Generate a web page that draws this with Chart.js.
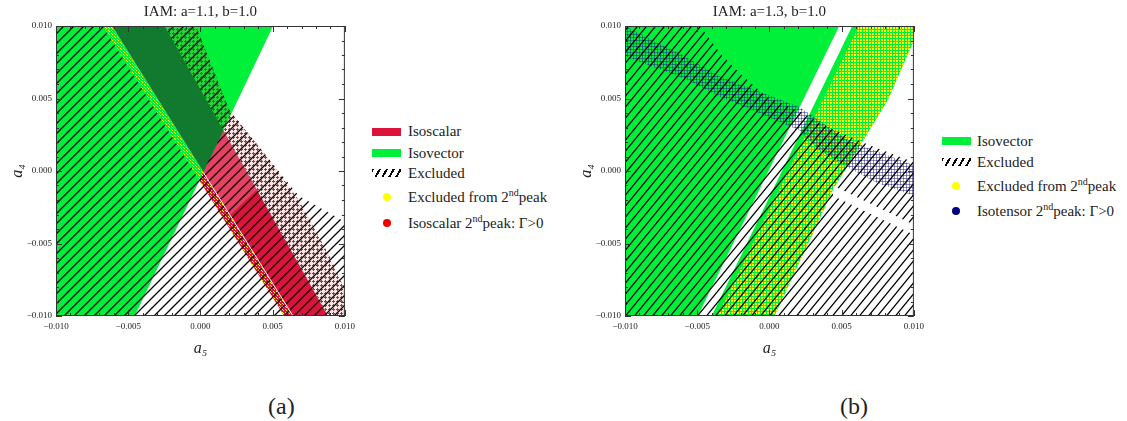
<!DOCTYPE html>
<html>
<head>
<meta charset="utf-8">
<script src="https://cdn.jsdelivr.net/npm/chart.js@4.4.1/dist/chart.umd.min.js"></script>
<style>
  body { margin: 0; width: 1127px; height: 421px; overflow: hidden; background: #fff; position: relative; font-family: "Liberation Serif", serif; color: #222; }
  canvas { position: absolute; top: 0; }
  .lg { position: absolute; font-size: 15px; white-space: nowrap; line-height: 18px; }
  .sw { position: absolute; width: 29px; height: 8px; }
  .dot { position: absolute; width: 8px; height: 8px; border-radius: 50%; }
  .cap { position: absolute; font-size: 24px; top: 393px; }
  sup { font-size: 10px; vertical-align: 6px; line-height: 0; }
</style>
</head>
<body>
<canvas id="chartA" width="360" height="360" style="left:0px"></canvas>
<canvas id="chartB" width="360" height="360" style="left:569px"></canvas>

<!-- legend (a) -->
<div class="sw" style="left:372px;top:128px;background:#dc143c"></div>
<div class="lg" style="left:408px;top:122px">Isoscalar</div>
<div class="sw" style="left:372px;top:149px;background:#00f03a"></div>
<div class="lg" style="left:408px;top:144px">Isovector</div>
<div class="sw" style="left:372px;top:169px;background:repeating-linear-gradient(120deg,#000 0 2px,#fff 2px 6px)"></div>
<div class="lg" style="left:408px;top:164px">Excluded</div>
<div class="dot" style="left:383px;top:193px;background:#ffff00"></div>
<div class="lg" style="left:408px;top:188px">Excluded from 2<sup>nd</sup>peak</div>
<div class="dot" style="left:383px;top:219px;background:#ee0000"></div>
<div class="lg" style="left:408px;top:214px">Isoscalar 2<sup>nd</sup>peak: Γ&gt;0</div>

<!-- legend (b) -->
<div class="sw" style="left:942px;top:137px;background:#00f03a"></div>
<div class="lg" style="left:977px;top:132px">Isovector</div>
<div class="sw" style="left:942px;top:158px;background:repeating-linear-gradient(120deg,#000 0 2px,#fff 2px 6px)"></div>
<div class="lg" style="left:977px;top:153px">Excluded</div>
<div class="dot" style="left:952px;top:182px;background:#ffff00"></div>
<div class="lg" style="left:977px;top:177px">Excluded from 2<sup>nd</sup>peak</div>
<div class="dot" style="left:952px;top:207px;background:#000080"></div>
<div class="lg" style="left:977px;top:202px">Isotensor 2<sup>nd</sup>peak: Γ&gt;0</div>

<div class="cap" style="left:268px">(a)</div>
<div class="cap" style="left:840px">(b)</div>

<script>
const titles = ['IAM: a=1.1, b=1.0', 'IAM: a=1.3, b=1.0'];
const axisMin = -0.010;
const axisMax = 0.010;
const tickStep = 0.005;

// panel (a): region outlines as [a5, a4]
const aIsoscalar = [[-0.00676, 0.01], [-0.00248, 0.01], [0.00883, -0.01], [0.0058, -0.01]];
const aIsovector = [[-0.01, -0.01], [-0.00455, -0.01], [0.00503, 0.01], [-0.01, 0.01]];
const aOverlap = [[-0.00614, 0.01], [-0.00248, 0.01], [0.0016, 0.0028], [0.0002, -0.0001]];
const aLightScalar = [[0.0002, -0.0001], [0.0016, 0.0028], [0.0039, -0.0013], [0.0021, -0.0030]];
const aPeakExcluded = [[-0.00676, 0.01], [-0.00614, 0.01], [0.00641, -0.01], [0.0058, -0.01]];
const aPeakScalar = [[-0.00248, 0.01], [-0.0003, 0.01], [0.0020, 0.0042], [0.0046, 0.0010], [0.0068, -0.0020],
                     [0.0089, -0.0058], [0.01, -0.0082], [0.01, -0.01], [0.00883, -0.01]];
const aExcluded = [[-0.01, 0.01], [-0.00676, 0.01], [-0.0001, -0.0006], [0.0016, 0.0028], [-0.00248, 0.01],
                   [-0.0003, 0.01], [0.0020, 0.0042], [0.0046, 0.0010], [0.0068, -0.0017], [0.01, -0.0035],
                   [0.01, -0.01], [-0.01, -0.01]];
const aEdgeGreen = [[-0.00614, 0.01], [0.0002, -0.0001]];
const aEdgeWhite = [[0.0002, -0.0001], [0.00641, -0.01]];

// panel (b)
const bIsovectorLeft = [[-0.01, -0.01], [-0.00496, -0.01], [0.00483, 0.01], [-0.01, 0.01]];
const bIsovectorBand = [[-0.0040, -0.01], [0.00573, 0.01], [0.01, 0.01], [0.01, 0.0090], [0.0082, 0.0049],
                        [0.0044, -0.0013], [0.00035, -0.01]];
const bPeakExcluded = [[-0.0036, -0.01], [0.0062, 0.01], [0.01, 0.01], [0.01, 0.0090], [0.0082, 0.0049],
                       [0.0044, -0.0013], [0.00035, -0.01]];
const bPeakTensor = [[-0.01, 0.01], [-0.0081, 0.0090], [-0.0062, 0.0081], [-0.0034, 0.0065], [-0.0005, 0.0054],
                     [0.0021, 0.0044], [0.0055, 0.0021], [0.01, 0.0004], [0.01, -0.0017], [0.0074, -0.0008],
                     [0.0057, 0.0001], [0.0035, 0.0014], [0.0021, 0.0028], [-0.0012, 0.0042], [-0.0034, 0.0051],
                     [-0.0057, 0.0063], [-0.0081, 0.0072], [-0.01, 0.0079]];
const bExcluded = [[-0.01, 0.01], [-0.0048, 0.01], [-0.0034, 0.0081], [-0.0021, 0.0068], [-0.0002, 0.0051],
                   [0.0021, 0.0041], [0.0041, 0.0030], [0.0069, 0.0018], [0.01, 0.0006], [0.01, -0.01], [-0.01, -0.01]];
const bGap = [[0.0044, -0.0010], [0.01, -0.0037], [0.01, -0.0044], [0.0044, -0.0017]];

const serif = '"Liberation Serif", serif';

function tile(ctx, w, h, draw) {
  const c = document.createElement('canvas');
  c.width = w; c.height = h;
  draw(c.getContext('2d'));
  return ctx.createPattern(c, 'repeat');
}

function hatchTile(ctx, w, h) {
  return tile(ctx, w, h, g => {
    g.strokeStyle = '#000'; g.lineWidth = 1.3;
    g.beginPath();
    g.moveTo(-w * 0.2, h * 1.2); g.lineTo(w * 1.2, -h * 0.2);
    g.moveTo(-w * 0.2, h * 0.2); g.lineTo(w * 0.2, -h * 0.2);
    g.moveTo(w * 0.8, h * 1.2); g.lineTo(w * 1.2, h * 0.8);
    g.stroke();
  });
}

function patterns(ctx, hw, hh) {
  return {
    hatch: hatchTile(ctx, hw, hh),
    yellow: tile(ctx, 3, 3, g => { g.fillStyle = '#ffff00'; g.fillRect(0, 0, 2, 2); }),
    yellowLight: tile(ctx, 3, 3, g => { g.fillStyle = '#ffff00'; g.fillRect(0, 0, 1, 1); g.fillRect(1, 1, 1, 1); }),
    red: tile(ctx, 4, 4, g => {
      g.fillStyle = 'rgba(255,60,60,0.15)'; g.fillRect(0, 0, 4, 4);
      g.fillStyle = '#ff1010'; g.fillRect(0, 1, 3, 1); g.fillRect(1, 0, 1, 3);
    }),
    blue: tile(ctx, 3, 3, g => {
      g.fillStyle = 'rgba(30,30,140,0.5)'; g.fillRect(0, 1, 3, 1); g.fillRect(1, 0, 1, 3);
    })
  };
}

const frameTicks = {
  id: 'frameTicks',
  afterDraw(chart) {
    const { ctx, chartArea: a, scales } = chart;
    ctx.save();
    ctx.strokeStyle = '#333';
    ctx.lineWidth = 1;
    ctx.strokeRect(a.left + 0.5, a.top + 0.5, a.right - a.left - 1, a.bottom - a.top - 1);
    ctx.beginPath();
    for (let i = 0; i <= 20; i++) {
      const v = axisMin + i * 0.001;
      const len = i % 5 === 0 ? 6 : 3;
      const px = Math.round(scales.x.getPixelForValue(v)) + 0.5;
      const py = Math.round(scales.y.getPixelForValue(v)) + 0.5;
      ctx.moveTo(px, a.bottom); ctx.lineTo(px, a.bottom - len);
      ctx.moveTo(px, a.top); ctx.lineTo(px, a.top + len);
      ctx.moveTo(a.left, py); ctx.lineTo(a.left + len, py);
      ctx.moveTo(a.right, py); ctx.lineTo(a.right - len, py);
    }
    ctx.stroke();
    ctx.restore();
  }
};

function fmt(v) {
  if (Math.abs(v) < 1e-9) v = 0;
  return v.toFixed(3).replace('-', '\u2212');
}

function makeChart(id, title, layers) {
  const n = layers.length;
  return new Chart(document.getElementById(id), {
    type: 'scatter',
    data: {
      datasets: layers.map((l, i) => ({
        data: l.pts.map(p => ({ x: p[0], y: p[1] })),
        showLine: true,
        fill: l.edge ? false : 'shape',
        backgroundColor: l.bg || 'transparent',
        borderColor: l.edge || 'transparent',
        borderWidth: l.edge ? 1 : 0,
        pointRadius: 0,
        tension: 0,
        order: n - i
      }))
    },
    options: {
      responsive: false,
      animation: false,
      events: [],
      layout: { padding: { right: 14 } },
      plugins: {
        legend: { display: false },
        tooltip: { enabled: false },
        title: {
          display: true, text: title, fullSize: false, color: '#222',
          font: { family: serif, size: 15, weight: 'normal' }, padding: { top: 3, bottom: 5 }
        }
      },
      scales: {
        x: {
          type: 'linear', min: axisMin, max: axisMax,
          grid: { display: false, drawTicks: false }, border: { display: false },
          ticks: { stepSize: tickStep, callback: fmt, color: '#222', font: { family: serif, size: 9 }, padding: 5, maxRotation: 0, autoSkip: false },
          title: { display: true, text: 'a\u2085', color: '#222', font: { family: serif, size: 16, style: 'italic' }, padding: { top: 0, bottom: 2 } },
          afterFit(s) { s.height = 44; }
        },
        y: {
          type: 'linear', min: axisMin, max: axisMax,
          grid: { display: false, drawTicks: false }, border: { display: false },
          ticks: { stepSize: tickStep, callback: fmt, color: '#222', font: { family: serif, size: 9 }, padding: 4, autoSkip: false },
          title: { display: true, text: 'a\u2084', color: '#222', font: { family: serif, size: 16, style: 'italic' }, padding: { top: 8, bottom: 0 } },
          afterFit(s) { s.width = 56; }
        }
      }
    },
    plugins: [frameTicks]
  });
}

const pa = patterns(document.getElementById('chartA').getContext('2d'), 10, 10);
makeChart('chartA', titles[0], [
  { pts: aIsoscalar, bg: '#dc143c' },
  { pts: aIsovector, bg: '#00f03a' },
  { pts: aOverlap, bg: '#127a2e' },
  { pts: aLightScalar, bg: 'rgba(255,170,190,0.3)' },
  { pts: aPeakExcluded, bg: pa.yellowLight },
  { pts: aPeakScalar, bg: pa.red },
  { pts: aExcluded, bg: pa.hatch },
  { pts: aEdgeGreen, edge: '#44e055' },
  { pts: aEdgeWhite, edge: '#ffffff' }
]);

const pb = patterns(document.getElementById('chartB').getContext('2d'), 9, 11);
makeChart('chartB', titles[1], [
  { pts: bIsovectorLeft, bg: '#00f03a' },
  { pts: bIsovectorBand, bg: '#00f03a' },
  { pts: bPeakExcluded, bg: pb.yellow },
  { pts: bPeakTensor, bg: pb.blue },
  { pts: bExcluded, bg: pb.hatch },
  { pts: bGap, bg: '#ffffff' }
]);
</script>
</body>
</html>
